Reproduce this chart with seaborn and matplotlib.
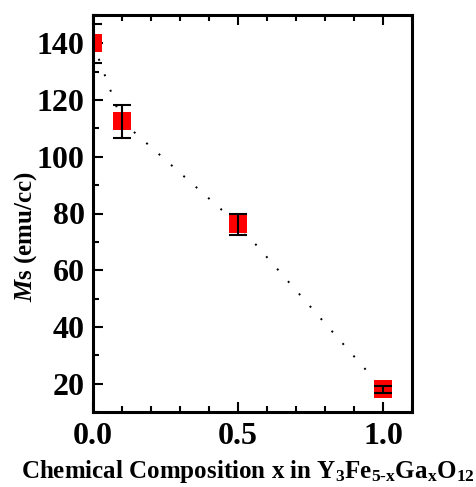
import matplotlib
matplotlib.use('Agg')
import matplotlib.pyplot as plt
import seaborn as sns
import pandas as pd
from matplotlib.ticker import MultipleLocator

# Data
x_comp = [0.0, 0.1, 0.5, 1.0]
ms_vals = [140.0, 112.5, 76.2, 18.0]
ms_err = [6.8, 5.7, 3.8, 1.3]

x_ticks = [0.0, 0.5, 1.0]
x_ticklabels = ['0.0', '0.5', '1.0']
y_ticks = [20, 40, 60, 80, 100, 120, 140]

sns.set_theme(style='ticks')
plt.rcParams['font.family'] = ['Liberation Serif', 'DejaVu Serif']
plt.rcParams['font.weight'] = 'bold'
plt.rcParams['text.color'] = 'black'
plt.rcParams['axes.labelcolor'] = 'black'
plt.rcParams['xtick.color'] = 'black'
plt.rcParams['ytick.color'] = 'black'
plt.rcParams['axes.edgecolor'] = 'black'
plt.rcParams['mathtext.fontset'] = 'custom'
plt.rcParams['mathtext.rm'] = 'Liberation Serif:bold'
plt.rcParams['mathtext.bf'] = 'Liberation Serif:bold'
plt.rcParams['mathtext.it'] = 'Liberation Serif:italic:bold'

fig = plt.figure(figsize=(4.76, 4.87), dpi=100)
ax = fig.add_axes([93/476, 75/487, 319/476, 397/487])

df = pd.DataFrame({'x': x_comp, 'Ms': ms_vals})
sns.lineplot(data=df, x='x', y='Ms', ax=ax, color='black', linewidth=1.4, zorder=1)
ax.lines[0].set_dashes((1, 7.5))
sns.scatterplot(data=df, x='x', y='Ms', ax=ax, marker='s', s=160, color='red',
                linewidth=0, zorder=2)
ax.errorbar(x_comp, ms_vals, yerr=ms_err, fmt='none', ecolor='black',
            elinewidth=1.5, capsize=6.4, capthick=1.5, zorder=3)

ax.set_xlim(0, 1.1)
ax.set_ylim(10, 150)
ax.set_xticks(x_ticks)
ax.set_xticklabels(x_ticklabels)
ax.set_yticks(y_ticks)
ax.xaxis.set_minor_locator(MultipleLocator(0.1))
ax.yaxis.set_minor_locator(MultipleLocator(10))
ax.tick_params(which='both', direction='in', top=True, right=False, width=1.5,
               color='black', labelcolor='black')
ax.tick_params(which='major', length=7, labelsize=23)
ax.tick_params(axis='x', which='major', pad=7)
ax.tick_params(axis='y', which='major', pad=6)
ax.tick_params(which='minor', length=4)
for lab in ax.get_xticklabels() + ax.get_yticklabels():
    lab.set_fontweight('bold')
for sp in ax.spines.values():
    sp.set_visible(True)
    sp.set_linewidth(2.2)
    sp.set_color('black')

ax.set_xlabel(r'Chemical Composition x in Y$_{3}$Fe$_{\mathrm{5}\text{-}\mathrm{x}}$Ga$_{\mathrm{x}}$O$_{12}$',
              fontsize=18, fontweight='bold', color='black')
ax.xaxis.set_label_coords((248 - 93) / 319, -0.115)
ax.set_ylabel(r'$\mathit{M}$s (emu/cc)', fontsize=18, fontweight='bold', color='black')
ax.yaxis.set_label_coords(-0.17, (412 - 236) / 397)

fig.savefig('out.png', dpi=100, facecolor='white')
